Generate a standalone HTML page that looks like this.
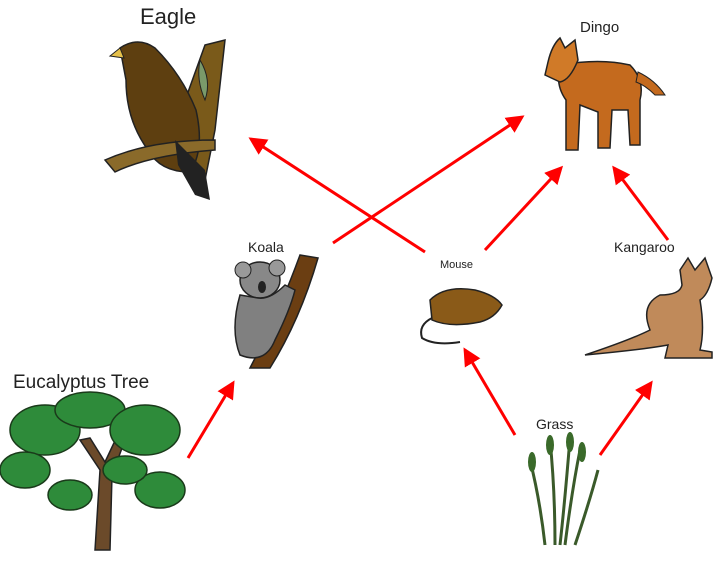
<!DOCTYPE html>
<html><head><meta charset="utf-8"><style>
html,body{margin:0;padding:0;background:#fff;}
svg{display:block;}
text{font-family:"Liberation Sans",sans-serif;fill:#222;}
</style></head><body>
<svg width="724" height="562" viewBox="0 0 724 562" xmlns="http://www.w3.org/2000/svg">
<defs>
<marker id="ah" markerWidth="6" markerHeight="6" refX="5" refY="3" orient="auto" markerUnits="strokeWidth">
<path d="M0,0 L6,3 L0,6 z" fill="#f00"/></marker>
</defs>

<!-- Eagle -->
<path d="M205,45 L225,40 L215,130 L205,180 L185,175 L178,120 Z" fill="#7a5a1a" stroke="#222" stroke-width="1.5"/>
<path d="M120,48 Q138,36 155,48 Q182,75 196,110 Q205,150 190,172 Q160,172 148,150 Q126,120 126,80 Z" fill="#5e3f10" stroke="#222" stroke-width="1.5"/>
<path d="M120,48 L110,56 L124,58 Z" fill="#e5c04a" stroke="#222"/>
<path d="M105,160 Q150,140 215,140 L215,150 Q150,155 115,172 Z" fill="#8a6a2a" stroke="#222" stroke-width="1.5"/>
<path d="M175,140 L205,170 L210,200 L195,195 L178,165 Z" fill="#222"/>
<path d="M200,60 Q212,80 205,100 Q196,80 200,60 Z" fill="#7a9a6a" stroke="#222"/>

<!-- Dingo -->
<path d="M560,65 Q600,58 630,65 Q645,80 640,100 L640,145 L630,145 L628,110 L612,110 L610,148 L598,148 L598,112 L580,105 L578,150 L566,150 L566,100 Q555,85 560,65 Z" fill="#c46a1e" stroke="#222" stroke-width="1.5"/>
<path d="M548,62 Q552,45 560,38 L565,48 L575,40 L578,60 Q570,80 560,82 L545,75 Z" fill="#d07a28" stroke="#222" stroke-width="1.5"/>
<path d="M638,72 Q655,80 665,95 L655,95 Q645,85 636,82 Z" fill="#c46a1e" stroke="#222"/>

<!-- Koala -->
<path d="M300,255 L318,258 Q300,320 270,368 L250,368 Q280,310 300,255 Z" fill="#6b3e12" stroke="#222" stroke-width="1.5"/>
<ellipse cx="260" cy="280" rx="20" ry="18" fill="#888" stroke="#222" stroke-width="1.5"/>
<circle cx="243" cy="270" r="8" fill="#999" stroke="#222"/>
<circle cx="277" cy="268" r="8" fill="#999" stroke="#222"/>
<path d="M240,295 Q230,330 240,355 Q265,365 275,340 Q290,310 295,290 L285,285 Q270,300 258,298 Z" fill="#808080" stroke="#222" stroke-width="1.5"/>
<ellipse cx="262" cy="287" rx="4" ry="6" fill="#222"/>

<!-- Mouse -->
<path d="M430,300 Q445,285 475,290 Q495,295 502,305 Q495,318 480,322 Q450,328 432,320 Z" fill="#8a5a18" stroke="#222" stroke-width="1.5"/>
<path d="M432,318 Q418,325 422,338 Q435,346 460,342" fill="none" stroke="#222" stroke-width="2"/>

<!-- Kangaroo -->
<path d="M680,270 L688,258 L695,270 L705,258 L712,278 Q708,295 700,300 Q705,330 700,350 L712,352 L712,358 L665,358 L668,345 Q640,350 585,355 Q630,340 650,330 Q640,305 660,295 Q680,295 682,285 Z" fill="#c08a5a" stroke="#222" stroke-width="1.5"/>

<!-- Eucalyptus tree -->
<path d="M95,550 L100,470 L80,440 L90,438 L105,462 L120,430 L128,432 L112,475 L110,550 Z" fill="#6b4a2a" stroke="#222" stroke-width="1.5"/>
<g fill="#2e8b3a" stroke="#1a3a1a" stroke-width="1.5">
<ellipse cx="45" cy="430" rx="35" ry="25"/>
<ellipse cx="25" cy="470" rx="25" ry="18"/>
<ellipse cx="90" cy="410" rx="35" ry="18"/>
<ellipse cx="145" cy="430" rx="35" ry="25"/>
<ellipse cx="160" cy="490" rx="25" ry="18"/>
<ellipse cx="70" cy="495" rx="22" ry="15"/>
<ellipse cx="125" cy="470" rx="22" ry="14"/>
</g>

<!-- Grass -->
<g fill="none" stroke="#3a5a2a" stroke-width="3">
<path d="M545,545 Q540,500 530,460"/>
<path d="M555,545 Q555,490 550,440"/>
<path d="M565,545 Q572,490 580,450"/>
<path d="M575,545 Q590,500 598,470"/>
<path d="M560,545 Q565,500 570,438"/>
</g>
<g fill="#3a6a2a"><ellipse cx="550" cy="445" rx="4" ry="10"/><ellipse cx="570" cy="442" rx="4" ry="10"/><ellipse cx="582" cy="452" rx="4" ry="10"/><ellipse cx="532" cy="462" rx="4" ry="10"/></g>

<!-- Arrows -->
<g stroke="#f00" stroke-width="3" fill="none" marker-end="url(#ah)">
<line x1="188" y1="458" x2="233" y2="383"/>
<line x1="333" y1="243" x2="522" y2="117"/>
<line x1="425" y1="252" x2="251" y2="139"/>
<line x1="485" y1="250" x2="561" y2="168"/>
<line x1="515" y1="435" x2="465" y2="350"/>
<line x1="600" y1="455" x2="651" y2="383"/>
<line x1="668" y1="240" x2="614" y2="168"/>
</g>

<!-- Labels -->
<text x="140" y="24" font-size="22">Eagle</text>
<text x="580" y="32" font-size="15">Dingo</text>
<text x="248" y="252" font-size="14">Koala</text>
<text x="440" y="268" font-size="11">Mouse</text>
<text x="614" y="252" font-size="14">Kangaroo</text>
<text x="13" y="388" font-size="19">Eucalyptus Tree</text>
<text x="536" y="429" font-size="14">Grass</text>
</svg>
</body></html>
